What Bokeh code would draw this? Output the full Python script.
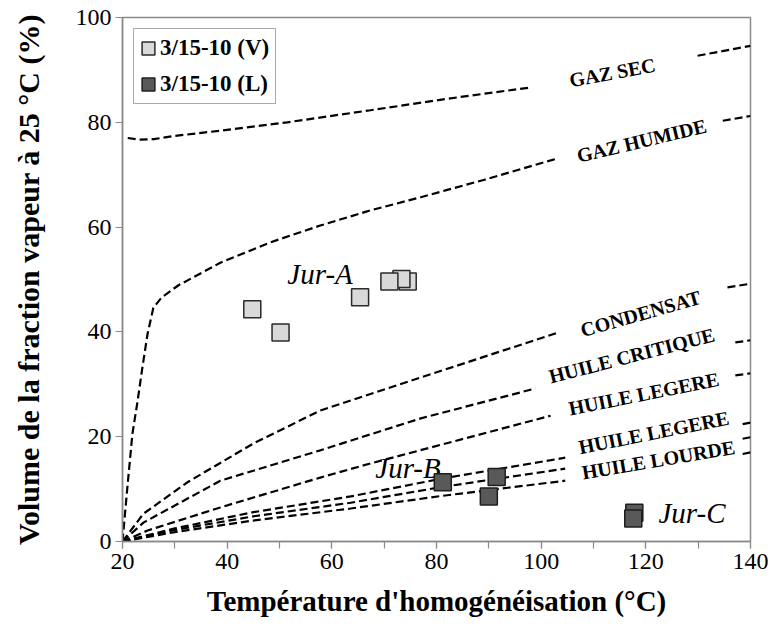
from bokeh.plotting import figure
from bokeh.models import Range1d, SingleIntervalTicker, Legend, LegendItem
from bokeh.core.properties import value
from bokeh.embed import file_html
from bokeh.resources import INLINE

nan = float("nan")

# ---- data ----
vap_x = [44.8, 50.2, 65.4, 74.5, 73.3, 71.0]
vap_y = [44.3, 39.9, 46.6, 49.6, 50.1, 49.6]
liq_x = [81.2, 90.0, 91.5, 117.8, 117.6]
liq_y = [11.3, 8.6, 12.3, 5.5, 4.4]

gaz_sec_x = [21.0, 23.0, 26.0, 30.0, 38.7, 51.5, 67.4, 82.1, 97.6, nan, 129.9, 140.0]
gaz_sec_y = [77.0, 76.7, 76.8, 77.4, 78.4, 80.0, 82.3, 84.5, 86.6, nan, 92.7, 94.6]

gaz_hum_x = [20.0, 21.0, 21.9, 22.9, 23.8, 24.8, 25.9, 27.5, 30.7, 38.7, 48.3, 57.8, 67.4, 77.0, 81.7, 89.0, 103.1, nan, 134.7, 140.0]
gaz_hum_y = [0.0, 11.1, 20.6, 26.9, 33.2, 39.7, 44.6, 46.6, 48.9, 53.2, 57.1, 60.3, 63.2, 65.7, 67.0, 69.0, 73.1, nan, 80.3, 81.2]

cond_x = [20.0, 24.0, 32.4, 45.0, 57.8, 77.0, 103.3, nan, 135.6, 140.0]
cond_y = [0.0, 5.3, 11.3, 18.7, 25.0, 31.3, 39.9, nan, 48.5, 49.2]

crit_x = [20.0, 24.0, 38.7, 57.8, 77.0, 98.9, nan, 137.1, 140.0]
crit_y = [0.0, 3.6, 11.6, 17.4, 23.5, 29.2, nan, 38.0, 38.4]

leg1_x = [20.0, 24.8, 38.7, 57.8, 67.4, 101.8, nan, 137.1, 140.0]
leg1_y = [0.0, 2.1, 6.5, 12.2, 14.9, 24.0, nan, 31.7, 32.1]

leg2_x = [20.0, 30.0, 45.0, 63.6, 81.0, 104.6, nan, 138.5, 140.0]
leg2_y = [0.0, 2.5, 5.6, 8.6, 12.0, 16.0, nan, 22.4, 22.7]

mid_x = [20.0, 30.0, 45.0, 63.6, 81.0, 104.6, nan, 138.5, 140.0]
mid_y = [0.0, 2.2, 4.8, 7.4, 10.4, 13.9, nan, 19.6, 19.9]

lourde_x = [20.0, 30.0, 45.0, 63.6, 81.0, 104.6, nan, 138.5, 140.0]
lourde_y = [0.0, 1.8, 4.0, 6.3, 8.7, 11.6, nan, 16.7, 17.0]

curve_labels = ["GAZ SEC", "GAZ HUMIDE", "CONDENSAT", "HUILE CRITIQUE", "HUILE LEGERE", "HUILE LEGERE", "HUILE LOURDE"]
zone_labels = ["Jur-A", "Jur-B", "Jur-C"]
series_names = ["3/15-10 (V)", "3/15-10 (L)"]
x_title = "Température d'homogénéisation (°C)"
y_title = "Volume de la fraction vapeur à 25 °C (%)"

# ---- layout / placement ----
curve_lab_x = [113.6, 119.2, 119.0, 117.3, 119.6, 121.5, 122.4]
curve_lab_y = [89.5, 76.5, 43.5, 35.5, 28.2, 20.8, 15.6]
curve_lab_ang = [10.5, 13.4, 15.8, 14.5, 11.3, 11.3, 9.6]
zone_lab_x = [51.5, 68.3, 122.4]
zone_lab_y = [51.1, 14.1, 5.5]

FONT = "Liberation Serif"

p = figure(width=768, height=628, x_range=Range1d(20, 140), y_range=Range1d(0, 100),
           output_backend="svg", toolbar_location=None,
           min_border_left=122, min_border_right=18, min_border_top=17, min_border_bottom=87)
p.background_fill_color = "white"
p.border_fill_color = "white"
p.outline_line_color = "#8a8a8a"
p.outline_line_width = 1.5
p.xgrid.visible = False
p.ygrid.visible = False

p.xaxis.ticker = SingleIntervalTicker(interval=20, num_minor_ticks=2)
p.yaxis.ticker = SingleIntervalTicker(interval=20, num_minor_ticks=0)
for ax in (p.xaxis[0], p.yaxis[0]):
    ax.axis_line_color = "#8a8a8a"
    ax.axis_line_width = 1.5
    ax.major_tick_line_color = "#8a8a8a"
    ax.minor_tick_line_color = "#8a8a8a"
    ax.major_tick_line_width = 1.2
    ax.minor_tick_line_width = 1.2
    ax.major_tick_in = 0
    ax.minor_tick_in = 0
    ax.major_tick_out = 7
    ax.major_label_text_font = FONT
    ax.major_label_text_font_size = "24px"
    ax.major_label_text_color = "black"
    ax.axis_label_text_font = FONT
    ax.axis_label_text_font_style = "bold"
    ax.axis_label_text_color = "black"
p.xaxis.axis_label_text_font_size = "29px"
p.yaxis.axis_label_text_font_size = "30px"
p.xaxis.minor_tick_out = 7
p.yaxis.minor_tick_out = 0
p.xaxis.major_label_standoff = 5
p.yaxis.major_label_standoff = 4
p.xaxis.axis_label = x_title
p.yaxis.axis_label = y_title
p.xaxis.axis_label_standoff = 13
p.yaxis.axis_label_standoff = 28

dash = dict(line_dash="8 4", line_width=2.2, line_color="black")
for cx, cy in [(gaz_sec_x, gaz_sec_y), (gaz_hum_x, gaz_hum_y), (cond_x, cond_y),
               (crit_x, crit_y), (leg1_x, leg1_y), (leg2_x, leg2_y),
               (mid_x, mid_y), (lourde_x, lourde_y)]:
    p.line(cx, cy, **dash)

p.text(x=curve_lab_x, y=curve_lab_y, text=curve_labels, angle=curve_lab_ang, angle_units="deg",
       text_font=value(FONT), text_font_style="bold", text_font_size="20px",
       text_align="center", text_baseline="middle", text_color="black")

p.text(x=zone_lab_x, y=zone_lab_y, text=zone_labels,
       text_font=value(FONT), text_font_style="italic", text_font_size="29px",
       text_align="left", text_baseline="alphabetic", text_color="black")

rv = p.rect(x=vap_x, y=vap_y, width=17, height=17, width_units="screen", height_units="screen",
            fill_color="#d9d9d9", line_color="#2a2a2a", line_width=1.5)
rl = p.rect(x=liq_x, y=liq_y, width=17, height=17, width_units="screen", height_units="screen",
            fill_color="#595959", line_color="#1e1e1e", line_width=1.5)

legend = Legend(items=[LegendItem(label=series_names[0], renderers=[rv]),
                       LegendItem(label=series_names[1], renderers=[rl])],
                location="top_left")
legend.margin = 11
legend.padding = 6
legend.spacing = 10
legend.glyph_width = 16
legend.glyph_height = 16
legend.label_standoff = 4
legend.label_height = 24
legend.label_text_font = FONT
legend.label_text_font_style = "bold"
legend.label_text_font_size = "23px"
legend.label_text_color = "black"
legend.border_line_color = "#555555"
legend.border_line_width = 1.2
legend.background_fill_color = "white"
legend.background_fill_alpha = 1.0
p.add_layout(legend)

open("out.html", "w").write(file_html(p, INLINE))
